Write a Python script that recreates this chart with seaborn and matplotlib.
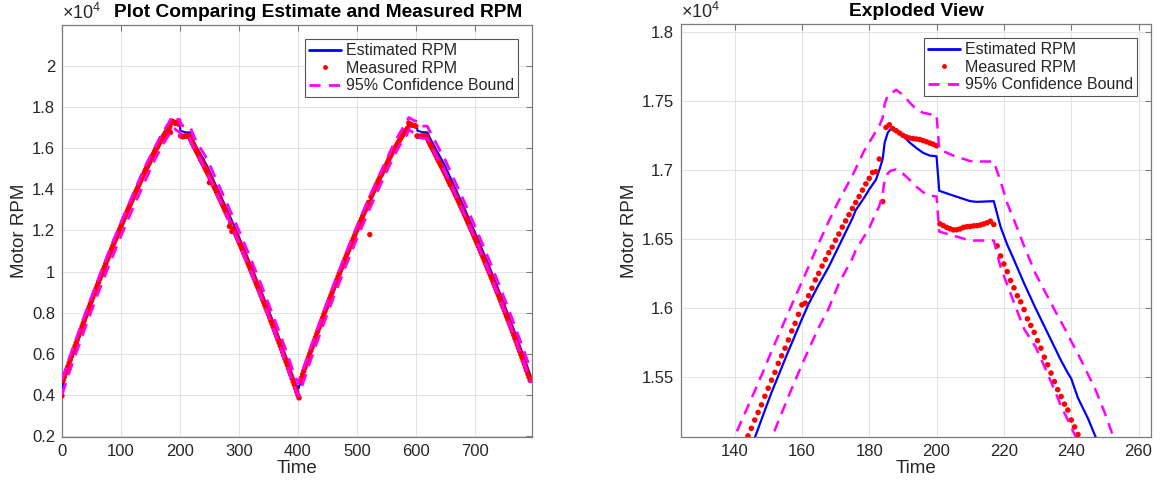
import numpy as np
import pandas as pd
import matplotlib
matplotlib.use("Agg")
import matplotlib.pyplot as plt
from matplotlib.lines import Line2D
from matplotlib.ticker import FuncFormatter
import seaborn as sns

# ---------------- data (RPM) ----------------
meas_time = list(range(0, 140, 2)) + list(range(140, 257)) + list(range(258, 796, 2))
meas_rpm = [
    # 0..138 step 2
    3950, 4705, 4874, 5045, 5210, 5377, 5543, 5709, 5874, 6038,
    6202, 6365, 6528, 6690, 6851, 7011, 7171, 7330, 7489, 7647,
    7804, 7960, 8116, 8271, 8426, 8580, 8733, 8886, 9038, 9189,
    9340, 9490, 9639, 9788, 9936, 10083, 10230, 10376, 10521, 10666,
    10810, 10954, 11096, 11239, 11380, 11521, 11661, 11800, 11939, 12077,
    12215, 12352, 12488, 12624, 12759, 12893, 13026, 13159, 13292, 13423,
    13554, 13685, 13814, 13943, 14072, 14199, 14326, 14453, 14578, 14703,
    # 140..256 step 1
    14828, 14890, 14955, 15015, 15075, 15130, 15190, 15245, 15300, 15362,
    15420, 15478, 15535, 15600, 15655, 15710, 15770, 15835, 15890, 15955,
    16024, 16036, 16090, 16145, 16205, 16252, 16305, 16352, 16402, 16442,
    16492, 16537, 16587, 16632, 16677, 16722, 16765, 16808, 16855, 16900,
    16940, 16983, 16988, 17080, 16772, 17309, 17328, 17300, 17285, 17268,
    17252, 17240, 17232, 17228, 17225, 17222, 17214, 17205, 17196, 17188,
    17176, 16611, 16598, 16585, 16575, 16567, 16568, 16574, 16585, 16590,
    16592, 16596, 16598, 16602, 16610, 16618, 16630, 16606, 16451, 16378,
    16320, 16265, 16200, 16147, 16090, 16046, 15990, 15923, 15875, 15825,
    15765, 15710, 15645, 15590, 15530, 15468, 15410, 15360, 15305, 15262,
    15190, 15140, 15085, 15030, 14975, 14915, 14860, 14800, 14740, 14680,
    14330, 14555, 14495, 14430, 14370, 14305, 14240,
    # 258..400 step 2
    14120, 13999, 13877, 13755, 13632, 13509, 13385, 13260, 13135, 13009,
    12883, 12755, 12628, 12200, 12370, 11950, 12110, 11980, 11848, 11716,
    11583, 11450, 11316, 11181, 11046, 10910, 10774, 10637, 10499, 10361,
    10222, 10083, 9942, 9802, 9660, 9518, 9376, 9232, 9089, 8944,
    8799, 8653, 8507, 8360, 8212, 8064, 7915, 7766, 7616, 7465,
    7314, 7162, 7009, 6856, 6702, 6548, 6393, 6237, 6081, 5924,
    5766, 5608, 5450, 5290, 5130, 4970, 4808, 4647, 4484, 4321,
    4157, 3993,
    # 402..588 step 2
    3850,
    4655, 4824, 4995, 5160, 5327, 5493, 5659, 5824, 5988,
    6152, 6315, 6478, 6640, 6801, 6961, 7121, 7280, 7439, 7597,
    7754, 7910, 8066, 8221, 8376, 8530, 8683, 8836, 8988, 9139,
    9290, 9440, 9589, 9738, 9886, 10033, 10180, 10326, 10471, 10616,
    10760, 10904, 11046, 11189, 11330, 11471, 11611, 11750, 11889, 12027,
    12165, 12302, 12438, 12574, 12709, 12843, 12976, 13109, 13242, 13373,
    11800, 13635, 13764, 13893, 14022, 14149, 14276, 14403, 14528, 14653,
    14728, 14855, 14975, 15090, 15200, 15320, 15435, 15555, 15670, 15790,
    15924, 15990, 16090, 16185, 16280, 16370, 16465, 16555, 16645, 16740,
    16835, 16888, 16980, 17228,
    # 590..618 step 2
    17185, 17140, 17125, 17114, 17100, 17076, 16600, 16585, 16575, 16580,
    16590, 16598, 16610, 16620, 16606,
    # 620..794 step 2
    16451, 16320, 16200, 16090, 15990, 15875, 15765, 15645, 15530, 15410,
    15305, 15190, 15085, 14975, 14860, 14740, 14620, 14495, 14370, 14240,
    14170, 14049, 13927, 13805, 13682, 13559, 13435, 13310, 13185, 13059,
    12933, 12805, 12678, 12549, 12420, 12291, 12160, 12030, 11898, 11766,
    11633, 11500, 11366, 11231, 11096, 10960, 10824, 10687, 10549, 10411,
    10272, 10133, 9992, 9852, 9710, 9568, 9426, 9282, 9139, 8994,
    8849, 8703, 8557, 8410, 8262, 8114, 7965, 7816, 7666, 7515,
    7364, 7212, 7059, 6906, 6752, 6598, 6443, 6287, 6131, 5974,
    5816, 5658, 5500, 5340, 5180, 5020, 4858, 4697,
]

est_time = [0, 10, 20, 40, 60, 80, 100, 120, 140,
            146, 149, 151, 153, 156, 160, 162,
            165, 168, 171, 173, 175, 176, 178.5, 180, 182, 183, 184, 184.6, 185.5,
            186.3, 188, 190, 192, 194, 196, 198, 200, 200.8, 205, 210, 212, 217,
            219, 221, 223, 226, 229.4, 232, 235, 237, 239, 240, 242, 245, 247.2,
            250, 260, 280, 300, 320, 340, 360, 380, 395, 401,
            402, 412, 422, 442, 462, 482, 502, 522, 542, 562,
            572, 580, 585, 587, 588.3, 595, 602, 602.8, 612, 619,
            621, 623, 625, 628, 631.4, 649.2, 662, 682, 702, 722,
            742, 762, 782, 795]
est_rpm = [4350, 5250, 6070, 7670, 9210, 10680, 12085, 13425, 14700,
           15060, 15260, 15390, 15510, 15690, 15920, 16030,
           16170, 16300, 16450, 16550, 16650, 16710, 16800, 16860, 16930, 17000, 17080, 17200, 17270,
           17297, 17280, 17250, 17200, 17160, 17125, 17105, 17100, 16850, 16815, 16775, 16770, 16775,
           16590, 16460, 16350, 16180, 16000, 15870, 15720, 15620, 15530, 15490, 15350, 15200, 15070,
           14900, 14260, 13010, 11700, 10330, 8900, 7410, 5850, 4600, 4300,
           4400, 5200, 6020, 7620, 9160, 10630, 12035, 13375, 14650, 15870,
           16400, 16780, 16950, 17150, 17200, 17080, 17000, 16850, 16780, 16780,
           16690, 16560, 16450, 16280, 16100, 15170, 14360, 13110, 11800, 10430,
           9000, 7510, 5950, 4900]

upper_rpm = [4750, 5600, 6400, 8000, 9530, 11000, 12400, 13740, 15070,
             15400, 15570, 15690, 15800, 15970, 16190, 16300,
             16470, 16630, 16780, 16870, 16960, 17010, 17140, 17200, 17280, 17320, 17380, 17480, 17540,
             17550, 17582, 17545, 17490, 17440, 17415, 17405, 17400, 17150, 17105, 17065, 17062, 17062,
             16920, 16760, 16640, 16450, 16250, 16130, 15990, 15900, 15810, 15760, 15670, 15520, 15410,
             15240, 14560, 13310, 12000, 10630, 9200, 7710, 6150, 4900, 4550,
             4700, 5500, 6320, 7920, 9460, 10930, 12335, 13675, 14950, 16170,
             16700, 17080, 17250, 17450, 17500, 17380, 17300, 17150, 17080, 17080,
             16990, 16860, 16750, 16580, 16400, 15470, 14660, 13410, 12100, 10730,
             9300, 7810, 6250, 5200]

lower_rpm = [4000, 4900, 5720, 7320, 8860, 10330, 11735, 13075, 14350,
             14730, 14930, 15060, 15180, 15360, 15590, 15700,
             15860, 16000, 16180, 16270, 16360, 16420, 16520, 16580, 16690, 16740, 16830, 16930, 16975,
             16995, 17005, 16975, 16930, 16880, 16840, 16815, 16809, 16555, 16525, 16490, 16490, 16490,
             16300, 16170, 16040, 15850, 15720, 15580, 15410, 15290, 15190, 15140, 15030, 14870, 14750,
             14580, 13960, 12710, 11400, 10030, 8600, 7110, 5550, 4300, 3950,
             4050, 4850, 5720, 7320, 8860, 10330, 11735, 13075, 14350, 15570,
             16100, 16480, 16650, 16850, 16900, 16780, 16700, 16550, 16480, 16480,
             16390, 16260, 16150, 15980, 15800, 14870, 14060, 12810, 11500, 10130,
             8700, 7210, 5650, 4600]

left_xticks = [0, 100, 200, 300, 400, 500, 600, 700]
left_yticks = [2000, 4000, 6000, 8000, 10000, 12000, 14000, 16000, 18000, 20000]
right_xticks = [140, 160, 180, 200, 220, 240, 260]
right_yticks = [15500, 16000, 16500, 17000, 17500, 18000]

meas = pd.DataFrame({"Time": meas_time, "RPM": meas_rpm})
est = pd.DataFrame({"Time": est_time, "RPM": est_rpm})
upper = pd.DataFrame({"Time": est_time, "RPM": upper_rpm})
lower = pd.DataFrame({"Time": est_time, "RPM": lower_rpm})

# ---------------- style ----------------
sns.set_theme(style="white")
plt.rcParams["font.family"] = ["Liberation Sans", "DejaVu Sans"]
plt.rcParams["mathtext.fontset"] = "custom"
plt.rcParams["mathtext.rm"] = "Liberation Sans"
plt.rcParams["mathtext.it"] = "Liberation Sans"

TXT = "#262626"
SPINE = "#7a7a7a"
BLUE, RED, MAG = "#0000ff", "#ff0000", "#ff00ff"

fig = plt.figure(figsize=(11.61, 4.83), dpi=100)
W, H = 1161, 483
axL = fig.add_axes([62 / W, 1 - 437 / H, 470 / W, 412 / H])
axR = fig.add_axes([681 / W, 1 - 437 / H, 470 / W, 413 / H])


def draw(ax, lw_blue, lw_dash, ms):
    sns.lineplot(data=est, x="Time", y="RPM", ax=ax, color=BLUE, lw=lw_blue,
                 estimator=None, sort=False, zorder=3)
    sns.scatterplot(data=meas, x="Time", y="RPM", ax=ax, color=RED, s=ms,
                    edgecolor="none", linewidth=0, zorder=4)
    for df in (upper, lower):
        sns.lineplot(data=df, x="Time", y="RPM", ax=ax, color=MAG, lw=lw_dash,
                     estimator=None, sort=False, zorder=5,
                     linestyle=(0, (4.5, 3)))


def style(ax, xlim, ylim, xticks, yticks, title, title_x):
    ax.set_xlim(*xlim)
    ax.set_ylim(*ylim)
    ax.set_xticks(xticks)
    ax.set_yticks(yticks)
    ax.yaxis.set_major_formatter(FuncFormatter(lambda v, p: f"{v / 1e4:g}"))
    ax.grid(True, color="#e3e3e3", lw=0.7)
    ax.set_axisbelow(True)
    for s in ax.spines.values():
        s.set_color(SPINE)
        s.set_linewidth(0.9)
    ax.tick_params(direction="in", length=4, width=0.8, color=SPINE, top=True,
                   right=True, labelsize=12, labelcolor=TXT, pad=5)
    ax.set_xlabel("Time", fontsize=13.5, color=TXT, labelpad=1)
    ax.set_ylabel("Motor RPM", fontsize=13.5, color=TXT, labelpad=3)
    ax.text(0, 1.004, r"$\times10^{4}$", transform=ax.transAxes, ha="left",
            va="bottom", fontsize=13, color=TXT)
    ax.text(title_x, 1.01, title, transform=ax.transAxes, ha="center",
            va="bottom", fontsize=13.8, fontweight="bold", color="black")
    handles = [
        Line2D([], [], color=BLUE, lw=2),
        Line2D([], [], color=RED, marker="o", ms=3.5, lw=0, markeredgewidth=0),
        Line2D([], [], color=MAG, lw=2, linestyle=(0, (4, 3))),
    ]
    labels = ["Estimated RPM", "Measured RPM", "95% Confidence Bound"]
    leg = ax.legend(handles, labels, loc="upper right", fontsize=11.5,
                    frameon=True, fancybox=False, framealpha=1, edgecolor="#555555",
                    borderpad=0.25, labelspacing=0.15, handlelength=2.0,
                    handletextpad=0.3, borderaxespad=0.9)
    leg.get_frame().set_linewidth(0.8)
    for t in leg.get_texts():
        t.set_color(TXT)


draw(axL, 1.5, 2.0, 15)
draw(axR, 1.6, 1.8, 16)
style(axL, (0, 797), (1950, 22000), left_xticks, left_yticks,
      "Plot Comparing Estimate and Measured RPM", 0.545)
style(axR, (124.1, 263.7), (15067, 18058), right_xticks, right_yticks,
      "Exploded View", 0.5)

fig.savefig("out.png", dpi=100)
